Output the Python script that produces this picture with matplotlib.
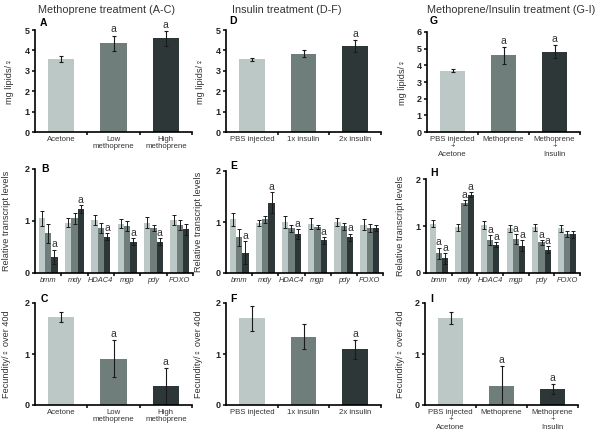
import matplotlib
matplotlib.use("Agg")
import matplotlib.pyplot as plt
import numpy as np

plt.rcParams["font.family"] = ["Liberation Sans", "DejaVu Sans"]

W, H = 601, 441

# bar colours (control, low/1x, high/2x)
COLORS = ["#bcc8c5", "#6f7e7b", "#2d3737"]

# ---- top row: lipid content ----
a_labels = ["Acetone", "Low\nmethoprene", "High\nmethoprene"]
a_vals = [3.58, 4.35, 4.59]
a_errs = [0.13, 0.38, 0.38]
a_sig = [False, True, True]

d_labels = ["PBS injected", "1x insulin", "2x insulin"]
d_vals = [3.56, 3.84, 4.23]
d_errs = [0.09, 0.18, 0.3]
d_sig = [False, False, True]

g_labels = ["PBS injected\n+\nAcetone", "Methoprene", "Methoprene\n+\nInsulin"]
g_vals = [3.68, 4.6, 4.82]
g_errs = [0.1, 0.5, 0.38]
g_sig = [False, True, True]

# ---- middle row: transcript levels ----
genes = ["bmm", "mdy", "HDAC4", "mgp", "pdy", "FOXO"]

b_vals = [[1.05, 0.97, 1.02, 0.95, 0.97, 1.02],
          [0.76, 1.05, 0.86, 0.9, 0.87, 0.92],
          [0.31, 1.23, 0.7, 0.6, 0.6, 0.84]]
b_errs = [[0.15, 0.08, 0.1, 0.08, 0.1, 0.1],
          [0.18, 0.1, 0.1, 0.1, 0.06, 0.1],
          [0.14, 0.07, 0.07, 0.07, 0.07, 0.1]]
b_sig = [[False] * 6,
         [False] * 6,
         [True, True, True, True, True, False]]

e_vals = [[1.05, 0.98, 1.0, 0.97, 1.0, 0.95],
          [0.7, 1.05, 0.88, 0.9, 0.92, 0.88],
          [0.4, 1.38, 0.76, 0.64, 0.7, 0.88]]
e_errs = [[0.12, 0.06, 0.12, 0.1, 0.08, 0.1],
          [0.17, 0.06, 0.07, 0.04, 0.07, 0.08],
          [0.22, 0.2, 0.1, 0.07, 0.07, 0.06]]
e_sig = [[False] * 6,
         [False] * 6,
         [True, True, True, True, True, False]]

h_vals = [[1.05, 0.97, 1.02, 0.95, 0.97, 0.95],
          [0.42, 1.5, 0.7, 0.72, 0.65, 0.83],
          [0.31, 1.67, 0.6, 0.58, 0.5, 0.82]]
h_errs = [[0.07, 0.08, 0.08, 0.07, 0.08, 0.08],
          [0.12, 0.05, 0.1, 0.1, 0.05, 0.07],
          [0.12, 0.05, 0.05, 0.12, 0.08, 0.08]]
h_sig = [[False] * 6,
         [True, True, True, True, True, False],
         [True, True, True, True, True, False]]

# ---- bottom row: fecundity ----
c_vals = [1.72, 0.91, 0.37]
c_errs = [0.1, 0.37, 0.36]
c_sig = [False, True, True]

f_vals = [1.7, 1.34, 1.09]
f_errs = [0.25, 0.24, 0.18]
f_sig = [False, False, True]

i_vals = [1.71, 0.37, 0.32]
i_errs = [0.12, 0.4, 0.1]
i_sig = [False, True, True]


def px_rect(l, t, r, b):
    return [l / W, 1 - b / H, (r - l) / W, (b - t) / H]


def style_axes(ax, ymax, nx):
    for side in ["top", "right"]:
        ax.spines[side].set_visible(False)
    for side in ["left", "bottom"]:
        ax.spines[side].set_linewidth(1.2)
    ax.set_ylim(0, ymax)
    ax.set_yticks(range(0, ymax + 1))
    ax.set_xlim(-0.5, nx - 0.5)
    ax.set_xticks(np.arange(nx))
    ax.set_xticks(np.arange(nx) + 0.5, minor=True)
    ax.tick_params(axis="y", labelsize=6.5, length=2.5, width=1.1, pad=1.5)
    ax.tick_params(axis="x", which="major", length=0, pad=3)
    ax.tick_params(axis="x", which="minor", length=2.5, width=1.1)
    for lab in ax.get_yticklabels():
        lab.set_fontweight("bold")
        lab.set_color("#222222")


def simple_bars(ax, labels, vals, errs, sig, ymax):
    x = np.arange(len(vals))
    ax.bar(x, vals, width=0.5, color=COLORS, zorder=1)
    ax.errorbar(x, vals, yerr=errs, fmt="none", ecolor="#1a1a1a",
                elinewidth=0.8, capsize=1.5, capthick=0.8, zorder=2)
    for xi, v, e, s in zip(x, vals, errs, sig):
        if s:
            ax.text(xi, v + e + ymax * 0.01, "a", ha="center", va="bottom",
                    fontsize=7.5, color="#333333")
    style_axes(ax, ymax, len(vals))
    ax.set_xticklabels(labels, fontsize=5.6, linespacing=1.05,
                       color="#333333")


def grouped_bars(ax, vals, errs, sig):
    x = np.arange(len(genes))
    w = 0.24
    for k in range(3):
        xs = x + (k - 1) * w
        ax.bar(xs, vals[k], width=w, color=COLORS[k], zorder=1)
        ax.errorbar(xs, vals[k], yerr=errs[k], fmt="none", ecolor="#1a1a1a",
                    elinewidth=0.7, capsize=1.2, capthick=0.7, zorder=2)
        for xi, v, e, s in zip(xs, vals[k], errs[k], sig[k]):
            if s:
                ax.text(xi, v + e + 0.005, "a", ha="center", va="bottom",
                        fontsize=7.5, color="#333333")
    style_axes(ax, 2, len(genes))
    ax.set_xticklabels(genes, fontsize=5.4, style="italic", color="#333333")


def set_ylabel(fig, ax, text, x_px):
    ax.set_ylabel(text, fontsize=6.6, color="#333333")
    pos = ax.get_position()
    ax.yaxis.set_label_coords(x_px / W, pos.y0 + pos.height / 2,
                              transform=fig.transFigure)


def panel_letter(fig, letter, x_px, y_px):
    fig.text(x_px / W, 1 - y_px / H, letter, fontsize=7.5, fontweight="bold",
             ha="left", va="center")


def main():
    fig = plt.figure(figsize=(W / 100, H / 100), dpi=100)

    ax_a = fig.add_axes(px_rect(35, 30, 192, 132))
    ax_d = fig.add_axes(px_rect(226, 30, 381, 132))
    ax_g = fig.add_axes(px_rect(427, 32, 580, 132))
    ax_b = fig.add_axes(px_rect(35, 169, 193, 273))
    ax_e = fig.add_axes(px_rect(226, 171, 383, 273))
    ax_h = fig.add_axes(px_rect(426, 179, 580, 273))
    ax_c = fig.add_axes(px_rect(35, 303, 192, 405))
    ax_f = fig.add_axes(px_rect(226, 303, 381, 405))
    ax_i = fig.add_axes(px_rect(425, 303, 578, 405))

    simple_bars(ax_a, a_labels, a_vals, a_errs, a_sig, 5)
    simple_bars(ax_d, d_labels, d_vals, d_errs, d_sig, 5)
    simple_bars(ax_g, g_labels, g_vals, g_errs, g_sig, 6)

    grouped_bars(ax_b, b_vals, b_errs, b_sig)
    grouped_bars(ax_e, e_vals, e_errs, e_sig)
    grouped_bars(ax_h, h_vals, h_errs, h_sig)

    simple_bars(ax_c, a_labels, c_vals, c_errs, c_sig, 2)
    simple_bars(ax_f, d_labels, f_vals, f_errs, f_sig, 2)
    simple_bars(ax_i, g_labels, i_vals, i_errs, i_sig, 2)

    for ax, xp in [(ax_a, 14), (ax_d, 205), (ax_g, 407)]:
        set_ylabel(fig, ax, "mg lipids/\u2640", xp)
    for ax, xp in [(ax_b, 11), (ax_e, 203), (ax_h, 405)]:
        set_ylabel(fig, ax, "Relative transcript levels", xp)
    for ax, xp in [(ax_c, 11), (ax_f, 203), (ax_i, 405)]:
        set_ylabel(fig, ax, "Fecundity/\u2640 over 40d", xp)

    # column titles
    titles = [("Methoprene treatment (A-C)", 38),
              ("Insulin treatment (D-F)", 232),
              ("Methoprene/Insulin treatment (G-I)", 427)]
    for t, xp in titles:
        fig.text(xp / W, 1 - 10 / H, t, fontsize=7.8, color="#333333",
                 ha="left", va="center")

    letters = [("A", 40, 23), ("D", 229, 21), ("G", 430, 21),
               ("B", 41, 169), ("E", 230, 166), ("H", 430, 173),
               ("C", 41, 299), ("F", 230, 299), ("I", 430, 299)]
    for l, xp, yp in letters:
        panel_letter(fig, l, xp, yp)

    fig.savefig("out.png", dpi=100)
    plt.close(fig)


if __name__ == "__main__":
    main()
